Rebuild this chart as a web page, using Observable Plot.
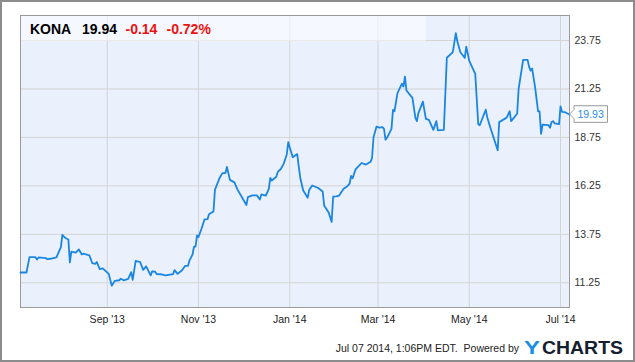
<!DOCTYPE html>
<html>
<head>
<meta charset="utf-8">
<script src="https://cdn.jsdelivr.net/npm/d3@7"></script>
<script src="https://cdn.jsdelivr.net/npm/@observablehq/plot@0.6"></script>
<style>
  html, body { margin: 0; padding: 0; background: #fff; }
  #chart { width: 635px; height: 362px; }
</style>
</head>
<body>
<div id="chart"></div>
<script>
// ---- data ----
const ticker = "KONA";
const lastPrice = "19.94";
const change = "-0.14";
const changePct = "-0.72%";
const calloutValue = 19.93;
const footerText = "Jul 07 2014, 1:06PM EDT.  Powered by";

const dates = [
  "2013-07-05","2013-07-09","2013-07-11","2013-07-15","2013-07-16","2013-07-17","2013-07-22","2013-07-23","2013-07-25","2013-07-29",
  "2013-08-01","2013-08-02","2013-08-04","2013-08-06","2013-08-07","2013-08-08","2013-08-11","2013-08-13","2013-08-15","2013-08-16",
  "2013-08-20","2013-08-22","2013-08-24","2013-08-25","2013-08-27","2013-08-29","2013-08-31","2013-09-02","2013-09-04","2013-09-06",
  "2013-09-09","2013-09-10","2013-09-12","2013-09-15","2013-09-17","2013-09-18","2013-09-20","2013-09-23","2013-09-25","2013-09-27",
  "2013-09-30","2013-10-01","2013-10-03","2013-10-04","2013-10-07","2013-10-10","2013-10-15","2013-10-16","2013-10-18","2013-10-21",
  "2013-10-23","2013-10-25","2013-10-26","2013-10-28","2013-10-29","2013-10-30","2013-10-31","2013-11-01","2013-11-03","2013-11-05",
  "2013-11-07","2013-11-08","2013-11-11","2013-11-12","2013-11-15","2013-11-17","2013-11-19","2013-11-20","2013-11-22","2013-11-25",
  "2013-11-27","2013-12-03","2013-12-04","2013-12-07","2013-12-10","2013-12-12","2013-12-13","2013-12-16","2013-12-18","2013-12-19",
  "2013-12-20","2013-12-23","2013-12-24","2013-12-26","2013-12-28","2013-12-30","2013-12-31","2014-01-01","2014-01-03","2014-01-06",
  "2014-01-07","2014-01-08","2014-01-10","2014-01-13","2014-01-14","2014-01-16","2014-01-20","2014-01-23","2014-01-24","2014-01-27",
  "2014-01-29","2014-01-30","2014-02-01","2014-02-03","2014-02-06","2014-02-08","2014-02-10","2014-02-11","2014-02-12","2014-02-14",
  "2014-02-18","2014-02-21","2014-02-24","2014-02-25","2014-02-26","2014-02-28","2014-03-02","2014-03-04","2014-03-05","2014-03-06",
  "2014-03-07","2014-03-10","2014-03-11","2014-03-12","2014-03-14","2014-03-17","2014-03-18","2014-03-19","2014-03-20","2014-03-24",
  "2014-03-26","2014-03-27","2014-03-28","2014-03-31","2014-04-02","2014-04-04","2014-04-07","2014-04-09","2014-04-10","2014-04-14",
  "2014-04-16","2014-04-20","2014-04-22","2014-04-23","2014-04-25","2014-04-28","2014-04-29","2014-05-01","2014-05-05","2014-05-07",
  "2014-05-08","2014-05-12","2014-05-13","2014-05-15","2014-05-20","2014-05-21","2014-05-26","2014-05-28","2014-05-29","2014-06-02",
  "2014-06-03","2014-06-06","2014-06-09","2014-06-10","2014-06-11","2014-06-12","2014-06-14","2014-06-16","2014-06-17","2014-06-18",
  "2014-06-19","2014-06-23","2014-06-24","2014-06-25","2014-06-26","2014-06-27","2014-06-30","2014-07-01","2014-07-02","2014-07-04",
  "2014-07-07"
];
const prices = [
  11.78,11.78,12.57,12.57,12.45,12.56,12.52,12.47,12.49,12.56,
  13.09,13.72,13.56,13.48,12.30,12.86,12.81,12.97,12.71,12.75,
  12.67,12.26,12.23,12.32,11.96,11.99,11.85,11.71,11.10,11.35,
  11.38,11.46,11.38,11.45,11.80,11.40,12.38,12.32,11.92,12.10,
  11.63,11.84,11.82,11.70,11.69,11.63,11.70,11.90,11.71,11.90,
  12.12,12.13,12.41,12.71,13.12,13.12,13.69,13.61,14.04,14.52,
  14.53,14.78,14.93,16.06,16.64,16.91,16.91,17.23,16.56,16.43,
  16.07,15.26,15.67,15.76,15.76,15.55,15.81,15.75,16.10,16.66,
  16.53,16.72,16.97,17.12,17.40,17.87,18.51,18.23,17.73,17.89,
  17.25,16.67,16.01,15.64,16.04,16.27,16.14,15.96,15.24,14.88,
  14.39,15.69,15.71,15.75,16.10,16.20,16.37,16.76,16.64,17.10,
  17.43,17.35,17.49,17.69,18.76,19.31,19.25,19.28,19.19,18.63,
  18.73,19.19,20.17,20.10,21.03,21.52,21.38,21.89,21.17,20.79,
  19.76,19.59,20.00,20.60,19.71,19.66,19.14,19.59,19.11,19.14,
  22.86,23.15,24.13,23.71,23.16,22.85,23.43,22.70,22.03,19.43,
  19.38,20.18,19.79,19.28,18.09,19.54,19.77,20.10,19.59,19.97,
  21.26,22.75,22.75,22.39,22.20,22.31,21.34,20.09,20.09,18.94,
  19.41,19.38,19.25,19.54,19.59,19.48,19.43,20.35,20.07,20.05,
  19.93
];

const xTickDates = ["2013-09-01","2013-11-01","2014-01-01","2014-03-01","2014-05-01","2014-07-01"];
const xTickLabels = ["Sep '13","Nov '13","Jan '14","Mar '14","May '14","Jul '14"];
const yTicks = [11.25, 13.75, 16.25, 18.75, 21.25, 23.75];
const xDomain = ["2013-07-05", "2014-07-07"];
const yDomain = [9.975, 25.04];

// ---- build ----
const rows = dates.map((d, i) => ({date: new Date(d), price: prices[i]}));
const xTicks = xTickDates.map(d => new Date(d));
const labelMap = new Map(xTicks.map((d, i) => [+d, xTickLabels[i]]));
const FONT = "Arial, 'Liberation Sans', Helvetica, sans-serif";

const chart = Plot.plot({
  width: 635,
  height: 362,
  marginLeft: 20,
  marginRight: 66,
  marginTop: 15,
  marginBottom: 55,
  style: {fontFamily: FONT, background: "#fff", fontSize: "10.5px"},
  x: {type: "utc", domain: xDomain.map(d => new Date(d))},
  y: {domain: yDomain},
  marks: [
    Plot.frame({fill: "#eaf1fc", stroke: null}),
    Plot.gridX(xTicks, {stroke: "#d4d4d4", strokeOpacity: 1}),
    Plot.gridY(yTicks, {stroke: "#d4d4d4", strokeOpacity: 1}),
    Plot.frame({stroke: "#9a9a9a"}),
    Plot.axisX(xTicks, {tickSize: 0, tickPadding: 8, tickFormat: d => labelMap.get(+d), fill: "#222", label: null}),
    Plot.axisY(yTicks, {anchor: "right", tickSize: 0, tickPadding: 5, tickFormat: d => d.toFixed(2), fill: "#333", label: null}),
    Plot.lineY(rows, {x: "date", y: "price", stroke: "#1a86e3", strokeWidth: 1.8})
  ]
});

document.getElementById("chart").appendChild(chart);

const svg = d3.select(chart);
const xs = chart.scale("x"), ys = chart.scale("y");
const T = (sel) => sel.attr("text-anchor", "start").attr("font-family", FONT);

// header band
svg.append("rect").attr("x", 21).attr("y", 16).attr("width", 405).attr("height", 25)
  .attr("fill", "#fff").attr("fill-opacity", 0.5);
const head = svg.append("g").attr("text-anchor", "start").attr("font-family", FONT)
  .attr("font-weight", "bold").attr("font-size", 14);
head.append("text").attr("x", 30).attr("y", 34).attr("fill", "#000").text(ticker);
head.append("text").attr("x", 82).attr("y", 34).attr("fill", "#000").text(lastPrice);
head.append("text").attr("x", 125.5).attr("y", 34).attr("fill", "#ee1111").text(change);
head.append("text").attr("x", 166.5).attr("y", 34).attr("fill", "#ee1111").text(changePct);

// callout for last value
const lastX = xs.apply(new Date(dates[dates.length - 1]));
const cy = ys.apply(calloutValue);
const bl = lastX + 5, br = bl + 33.5, bt = cy - 8.3, bb = cy + 8.3;
svg.append("path")
  .attr("d", `M${lastX + 0.5},${cy} L${bl},${cy - 4.5} L${bl},${bt} L${br},${bt} L${br},${bb} L${bl},${bb} L${bl},${cy + 4.5} Z`)
  .attr("fill", "#fff").attr("stroke", "#9a9a9a").attr("stroke-width", 1);
T(svg.append("text")).attr("x", bl + 3.5).attr("y", cy + 4)
  .attr("font-size", 10.5).attr("fill", "#2b8ee6")
  .text(calloutValue.toFixed(2));

// footer
svg.append("text").attr("x", 519).attr("y", 352).attr("text-anchor", "end")
  .attr("font-family", FONT).attr("font-size", 10.5).attr("fill", "#222")
  .attr("xml:space", "preserve").style("white-space", "pre").text(footerText);
T(svg.append("text")).attr("x", 524).attr("y", 354)
  .attr("font-weight", 900).attr("font-size", 19).attr("fill", "#1a8fe6")
  .attr("textLength", 16).attr("lengthAdjust", "spacingAndGlyphs").text("Y");
T(svg.append("text")).attr("x", 542).attr("y", 354)
  .attr("font-weight", 900).attr("font-size", 18).attr("fill", "#14202e")
  .attr("textLength", 81).attr("lengthAdjust", "spacingAndGlyphs").text("CHARTS");

// outer border
svg.append("rect").attr("x", 1).attr("y", 1).attr("width", 633).attr("height", 360)
  .attr("fill", "none").attr("stroke", "#8c8c8c").attr("stroke-width", 2);
</script>
</body>
</html>
